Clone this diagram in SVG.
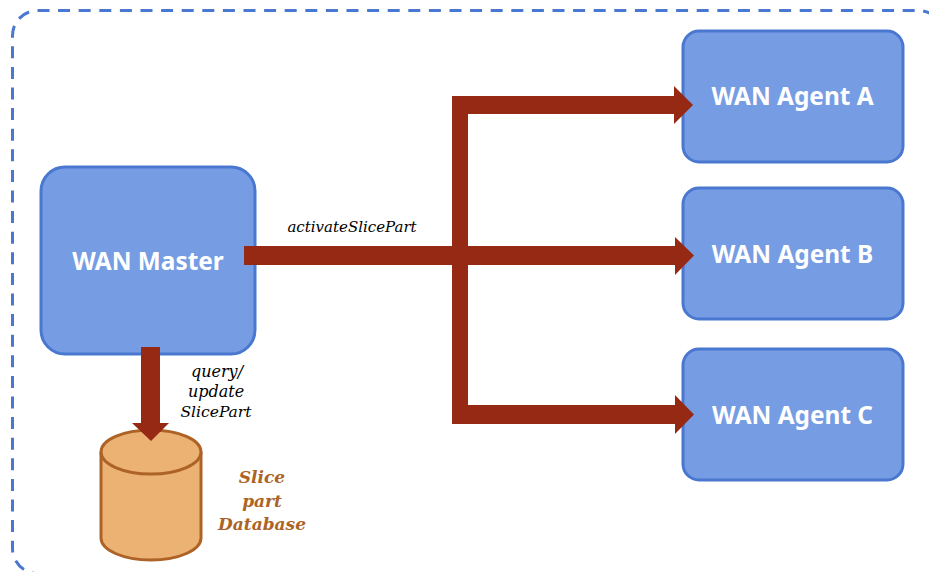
<svg xmlns="http://www.w3.org/2000/svg" width="929" height="572" viewBox="0 0 929 572">
<style>
.box{fill:#769ce3;stroke:#4a78d0;stroke-width:3}
.name{font-family:"Noto Sans","DejaVu Sans",sans-serif;font-weight:700;font-size:24.400px;fill:#fff;text-anchor:middle}
.lab{font-family:"DejaVu Serif","Liberation Serif",serif;font-style:italic;font-size:15px;fill:#000;text-anchor:middle}
.db{font-family:"DejaVu Serif","Liberation Serif",serif;font-style:italic;font-weight:700;font-size:17px;fill:#ad6326;text-anchor:middle}
.cyl{fill:#ecb274;stroke:#ad6326;stroke-width:3}
.arr{fill:#962914}
.frame{fill:none;stroke:#4a78d0;stroke-width:3;stroke-dasharray:12 8.600}
</style>
<rect width="929" height="572" fill="#fff"/>
<g id="frame">
<path class="frame" d="M37.500 10.500H918A27 27 0 0 1 945 37.500V600"/>
<path class="frame" stroke-dashoffset="12" d="M37.500 10.500A25 25 0 0 0 12.500 35.500V548.500A25 25 0 0 0 37.500 573.500H960"/>
</g>
<g id="wan-master"><rect class="box" x="41" y="167" width="214" height="187" rx="24"/><text class="name" x="148" y="270">WAN Master</text></g>
<g id="wan-agent-a"><rect class="box" x="683" y="31" width="220" height="131" rx="16"/><text class="name" x="792.500" y="105">WAN Agent A</text></g>
<g id="wan-agent-b"><rect class="box" x="683" y="188" width="220" height="131" rx="16"/><text class="name" x="792.500" y="263">WAN Agent B</text></g>
<g id="wan-agent-c"><rect class="box" x="683" y="349" width="220" height="131" rx="16"/><text class="name" x="792.500" y="424">WAN Agent C</text></g>
<g id="database">
<path class="cyl" d="M101 452V538C101 550 123 560 151 560S201 550 201 538V452"/>
<ellipse class="cyl" cx="151" cy="452" rx="50" ry="22"/>
<text class="db" x="262" y="483">Slice</text><text class="db" x="262" y="507">part</text><text class="db" x="262" y="530">Database</text>
</g>
<g id="connectors">
<path class="arr" d="M452 96H674V86L693 105L674 124V114H468V246H675V237L694 255.500L675 275V265H468V405H675V395L694 414.500L675 434V424H452V265H244V246H452Z"/>
<path class="arr" d="M141 347H160V423H169L151 441L132 423H141Z"/>
</g>
<text class="lab" x="352" y="232">activateSlicePart</text>
<text class="lab" x="217" y="376.500" style="font-size:16px">query/</text><text class="lab" x="216" y="396.500" style="font-size:16px">update</text><text class="lab" x="216" y="416.500" style="font-size:15.500px">SlicePart</text>
</svg>
